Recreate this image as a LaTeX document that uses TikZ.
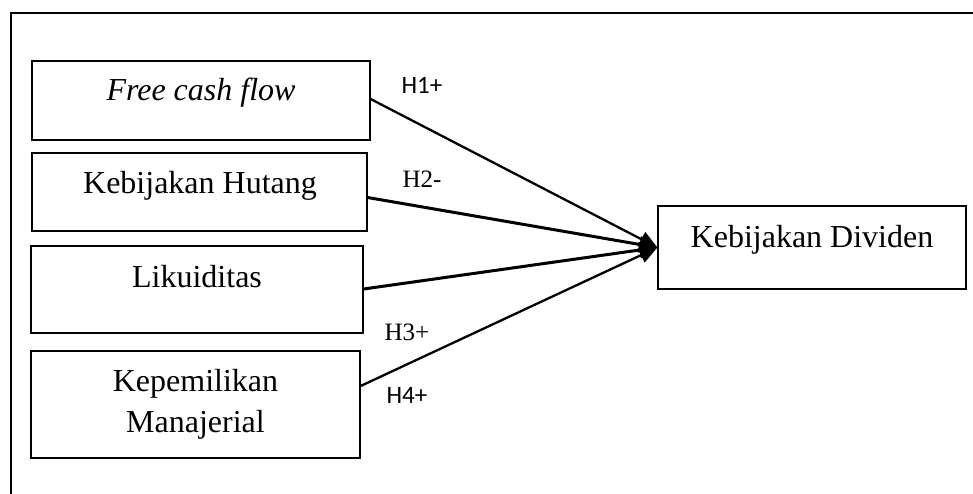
\documentclass[tikz,border=0pt]{standalone}
\usepackage{fontspec}
\setmainfont{Liberation Serif}
\newfontfamily\hsans{Carlito}
\usetikzlibrary{arrows.meta}
\begin{document}
\begin{tikzpicture}[x=1pt,y=-1pt,
  boxnode/.style={draw, line width=1.2pt, inner sep=0pt},
  txt/.style={anchor=base, inner sep=0pt, font=\fontsize{32}{38}\selectfont},
  hlab/.style={anchor=base, inner sep=0pt, font=\fontsize{25}{30}\selectfont},
  conn/.style={-{Triangle[length=18pt,width=16pt]}}]
\useasboundingbox (0,0) rectangle (973,493);
\clip (0,0) rectangle (973,493);
\draw[line width=1.8pt] (11,13) rectangle (1000,520);
% boxes
\node[boxnode, minimum width=338pt, minimum height=79pt] (b1) at (201,100.5) {};
\node[boxnode, minimum width=335pt, minimum height=78pt] (b2) at (199.5,192) {};
\node[boxnode, minimum width=332pt, minimum height=87pt] (b3) at (197,289.5) {};
\node[boxnode, minimum width=329pt, minimum height=107pt] (b4) at (195.5,404.5) {};
\node[boxnode, minimum width=308pt, minimum height=83pt] (t) at (812,247.5) {};
% texts
\node[txt] (t1) at (201,100) {\itshape Free cash flow};
\node[txt] (t2) at (200,193) {Kebijakan Hutang};
\node[txt] (t3) at (197,287) {Likuiditas};
\node[txt] (t4a) at (195.5,391) {Kepemilikan};
\node[txt] (t4b) at (195.5,432) {Manajerial};
\node[txt] (tt) at (812,247) {Kebijakan Dividen};
% labels
\node[hlab] (h1) at (422,93) {\hsans H1+};
\node[hlab] (h2) at (422,187) {H2-};
\node[hlab] (h3) at (407,340) {H3+};
\node[hlab] (h4) at (407,403) {\hsans H4+};
% connectors
\draw[conn, line width=2.3pt] ([yshift=1.5pt]b1.east) -- (t.west);
\draw[conn, line width=3pt] ([yshift=-5.5pt]b2.east) -- (t.west);
\draw[conn, line width=3pt] ([yshift=0.5pt]b3.east) -- (t.west);
\draw[conn, line width=2.3pt] ([yshift=18.5pt]b4.east) -- (t.west);
\end{tikzpicture}
\end{document}
